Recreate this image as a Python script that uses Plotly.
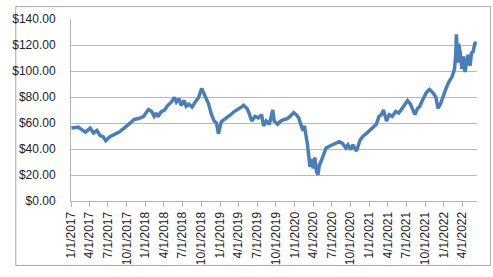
import plotly.graph_objects as go

dates = [
    "2017-01-03", "2017-01-18", "2017-02-06", "2017-02-24", "2017-03-13", "2017-04-05",
    "2017-04-21", "2017-05-08", "2017-05-23", "2017-06-08", "2017-06-20", "2017-07-10",
    "2017-07-25", "2017-08-10", "2017-08-25", "2017-09-18", "2017-10-04", "2017-10-20",
    "2017-11-06", "2017-11-28", "2017-12-22", "2018-01-15", "2018-01-31", "2018-02-12",
    "2018-02-23", "2018-03-02", "2018-03-19", "2018-04-04", "2018-04-20", "2018-05-07",
    "2018-05-22", "2018-06-01", "2018-06-14", "2018-06-25", "2018-07-09", "2018-07-19",
    "2018-08-01", "2018-08-17", "2018-09-04", "2018-09-18", "2018-10-03", "2018-10-19",
    "2018-11-05", "2018-11-20", "2018-12-03", "2018-12-14", "2018-12-24", "2019-01-07",
    "2019-01-22", "2019-02-07", "2019-02-22", "2019-03-11", "2019-03-26", "2019-04-10",
    "2019-04-26", "2019-05-13", "2019-05-23", "2019-06-05", "2019-06-21", "2019-07-08",
    "2019-07-23", "2019-08-02", "2019-08-15", "2019-08-30", "2019-09-16", "2019-09-23",
    "2019-10-10", "2019-10-25", "2019-11-11", "2019-11-26", "2019-12-12", "2019-12-27",
    "2020-01-09", "2020-01-21", "2020-01-31", "2020-02-11", "2020-02-18", "2020-02-27",
    "2020-03-04", "2020-03-10", "2020-03-16", "2020-03-24", "2020-04-01", "2020-04-09",
    "2020-04-17", "2020-04-24", "2020-05-01", "2020-05-11", "2020-05-19", "2020-06-03",
    "2020-06-19", "2020-07-06", "2020-07-21", "2020-08-06", "2020-08-21", "2020-09-08",
    "2020-09-18", "2020-10-01", "2020-10-12", "2020-10-23", "2020-10-30", "2020-11-16",
    "2020-12-02", "2020-12-18", "2021-01-04", "2021-01-19", "2021-02-04", "2021-02-17",
    "2021-03-01", "2021-03-11", "2021-03-19", "2021-03-26", "2021-04-08", "2021-04-23",
    "2021-05-10", "2021-05-25", "2021-06-10", "2021-06-25", "2021-07-07", "2021-07-20",
    "2021-07-30", "2021-08-12", "2021-08-25", "2021-09-03", "2021-09-21", "2021-10-07",
    "2021-10-22", "2021-11-08", "2021-11-23", "2021-12-03", "2021-12-16", "2021-12-29",
    "2022-01-10", "2022-01-26", "2022-02-10", "2022-02-22", "2022-02-28", "2022-03-03",
    "2022-03-09", "2022-03-14", "2022-03-22", "2022-03-30", "2022-04-07", "2022-04-14",
    "2022-04-22", "2022-04-29", "2022-05-09", "2022-05-16", "2022-05-24", "2022-06-01",
    "2022-06-09",
]

prices = [
    56.1, 56.6, 56.8, 54.7, 53.0, 56.1,
    52.3, 54.2, 50.5, 49.4, 46.4, 49.4,
    50.5, 52.3, 53.0, 56.1, 57.8, 60.3,
    62.7, 63.4, 65.0, 70.3, 68.8, 65.1,
    67.6, 64.7, 68.8, 70.0, 73.6, 76.0,
    79.7, 76.0, 78.5, 73.6, 77.3, 72.9,
    74.4, 72.4, 76.8, 79.7, 86.5, 81.0,
    74.9, 66.4, 61.5, 60.0, 51.8, 61.0,
    62.7, 63.9, 66.4, 68.8, 70.0, 71.7,
    73.6, 71.2, 67.6, 61.5, 65.1, 63.9,
    66.4, 57.8, 61.5, 59.0, 70.0, 61.5,
    59.0, 61.5, 62.7, 63.4, 65.5, 68.0,
    66.4, 63.9, 59.0, 54.2, 57.8, 50.5,
    43.2, 34.8, 26.3, 32.3, 25.0, 33.5,
    22.6, 20.2, 27.5, 31.1, 34.8, 40.8,
    42.1, 43.2, 44.5, 45.7, 44.5, 40.8,
    43.2, 39.6, 43.2, 39.6, 38.4, 46.9,
    50.0, 52.0, 54.5, 56.8, 59.0, 65.1,
    66.4, 70.0, 65.1, 61.5, 66.4, 65.1,
    68.8, 67.6, 71.2, 74.9, 77.3, 74.9,
    71.2, 66.4, 71.2, 72.4, 78.5, 83.4,
    85.8, 83.4, 79.7, 71.2, 74.9, 81.0,
    86.0, 91.9, 95.5, 101.6, 112.5, 128.3,
    106.5, 121.0, 113.8, 101.6, 111.3, 99.2,
    108.9, 112.5, 104.0, 113.8, 115.0, 121.0,
    122.3,
]

tick_dates = [
    "2017-01-01", "2017-04-01", "2017-07-01", "2017-10-01",
    "2018-01-01", "2018-04-01", "2018-07-01", "2018-10-01",
    "2019-01-01", "2019-04-01", "2019-07-01", "2019-10-01",
    "2020-01-01", "2020-04-01", "2020-07-01", "2020-10-01",
    "2021-01-01", "2021-04-01", "2021-07-01", "2021-10-01",
    "2022-01-01", "2022-04-01",
]
tick_labels = [
    "1/1/2017", "4/1/2017", "7/1/2017", "10/1/2017",
    "1/1/2018", "4/1/2018", "7/1/2018", "10/1/2018",
    "1/1/2019", "4/1/2019", "7/1/2019", "10/1/2019",
    "1/1/2020", "4/1/2020", "7/1/2020", "10/1/2020",
    "1/1/2021", "4/1/2021", "7/1/2021", "10/1/2021",
    "1/1/2022", "4/1/2022",
]
y_ticks = [0, 20, 40, 60, 80, 100, 120, 140]
y_labels = ["$0.00", "$20.00", "$40.00", "$60.00", "$80.00", "$100.00", "$120.00", "$140.00"]

fig = go.Figure()
fig.add_trace(go.Scatter(
    x=dates, y=prices, mode="lines",
    line=dict(color="#4A7EBB", width=3.5),
    showlegend=False, hoverinfo="skip",
))

fig.update_layout(
    width=493, height=277,
    margin=dict(l=58, r=16, t=14, b=71),
    paper_bgcolor="white", plot_bgcolor="white",
    font=dict(family="Liberation Sans, Arial, sans-serif", size=12, color="#222222"),
    xaxis=dict(
        type="date",
        range=["2017-01-01", "2022-06-12"],
        tickmode="array", tickvals=tick_dates, ticktext=tick_labels,
        tickangle=-90,
        ticks="outside", ticklen=5, tickcolor="#B4B4B4",
        showgrid=False, zeroline=False,
        showline=True, linecolor="#B4B4B4", linewidth=1,
    ),
    yaxis=dict(
        range=[0, 140],
        tickmode="array", tickvals=y_ticks, ticktext=y_labels,
        showgrid=True, gridcolor="#B8B8B8", gridwidth=1,
        zeroline=False,
        showline=True, linecolor="#B4B4B4", linewidth=1,
        ticks="", ticklabelstandoff=12,
    ),
    shapes=[dict(
        type="rect", xref="paper", yref="paper",
        x0=-0.136, x1=1.033, y0=-0.354, y1=1.068,
        line=dict(color="#A8A8A8", width=1), fillcolor="rgba(0,0,0,0)",
        layer="below",
    )],
)

fig.write_html("out.html")
